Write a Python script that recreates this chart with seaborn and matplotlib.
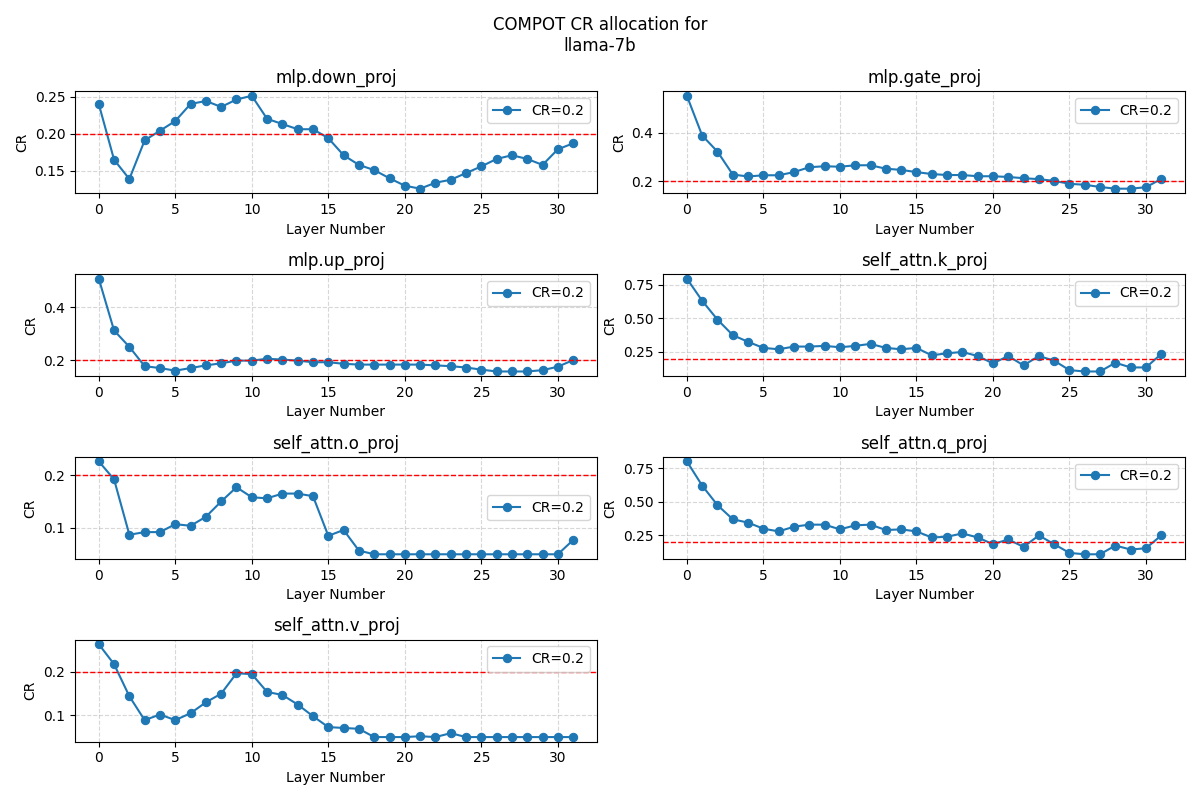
import numpy as np
import pandas as pd
import matplotlib
matplotlib.use("Agg")
import matplotlib.pyplot as plt
import seaborn as sns

layers = list(range(32))

down_proj = [0.240, 0.165, 0.139, 0.191, 0.204, 0.217, 0.240, 0.244, 0.236, 0.246,
             0.251, 0.220, 0.213, 0.206, 0.206, 0.194, 0.171, 0.158, 0.151, 0.140,
             0.130, 0.126, 0.134, 0.138, 0.147, 0.156, 0.166, 0.171, 0.166, 0.158,
             0.179, 0.187]
gate_proj = [0.551, 0.388, 0.322, 0.228, 0.220, 0.225, 0.225, 0.238, 0.258, 0.262,
             0.260, 0.266, 0.266, 0.252, 0.247, 0.238, 0.230, 0.226, 0.226, 0.221,
             0.221, 0.218, 0.213, 0.209, 0.202, 0.190, 0.186, 0.177, 0.170, 0.170,
             0.176, 0.210]
up_proj = [0.508, 0.312, 0.250, 0.177, 0.170, 0.160, 0.170, 0.180, 0.188, 0.198,
           0.198, 0.205, 0.202, 0.198, 0.192, 0.192, 0.186, 0.183, 0.183, 0.183,
           0.183, 0.183, 0.180, 0.177, 0.172, 0.164, 0.157, 0.157, 0.157, 0.162,
           0.175, 0.200]
k_proj = [0.795, 0.630, 0.490, 0.375, 0.325, 0.280, 0.270, 0.290, 0.290, 0.295,
          0.285, 0.295, 0.310, 0.280, 0.270, 0.280, 0.225, 0.240, 0.250, 0.220,
          0.165, 0.220, 0.150, 0.220, 0.185, 0.115, 0.105, 0.105, 0.170, 0.135,
          0.135, 0.235]
o_proj = [0.226, 0.192, 0.087, 0.092, 0.092, 0.107, 0.104, 0.121, 0.150, 0.177,
          0.158, 0.156, 0.165, 0.165, 0.160, 0.085, 0.096, 0.057, 0.050, 0.050,
          0.050, 0.050, 0.050, 0.050, 0.050, 0.050, 0.050, 0.050, 0.050, 0.050,
          0.050, 0.077]
q_proj = [0.800, 0.620, 0.475, 0.370, 0.345, 0.300, 0.280, 0.315, 0.330, 0.330,
          0.295, 0.325, 0.330, 0.290, 0.295, 0.280, 0.235, 0.240, 0.265, 0.235,
          0.185, 0.220, 0.165, 0.250, 0.185, 0.120, 0.110, 0.110, 0.175, 0.145,
          0.155, 0.250]
v_proj = [0.264, 0.218, 0.144, 0.089, 0.102, 0.089, 0.105, 0.130, 0.150, 0.197,
          0.195, 0.154, 0.147, 0.125, 0.098, 0.073, 0.071, 0.069, 0.050, 0.050,
          0.050, 0.052, 0.050, 0.059, 0.050, 0.050, 0.050, 0.050, 0.050, 0.050,
          0.050, 0.050]

target_cr = 0.2
module_names = ["mlp.down_proj", "mlp.gate_proj", "mlp.up_proj", "self_attn.k_proj",
                "self_attn.o_proj", "self_attn.q_proj", "self_attn.v_proj"]
module_values = [down_proj, gate_proj, up_proj, k_proj, o_proj, q_proj, v_proj]

fig, axes = plt.subplots(nrows=4, ncols=2, figsize=(12, 8))
axes = axes.flatten()

for idx, (name, vals) in enumerate(zip(module_names, module_values)):
    ax = axes[idx]
    df = pd.DataFrame({"layer": layers, "cr": vals})
    sns.lineplot(data=df, x="layer", y="cr", marker="o", color="#1f77b4",
                 markeredgecolor="#1f77b4", markersize=6, label=f"CR={target_cr}", ax=ax)
    ax.axhline(target_cr, color="red", linestyle="--", linewidth=1)
    ax.set_title(name)
    ax.set_xlabel("Layer Number")
    ax.set_ylabel("CR")
    ax.grid(True, linestyle="--", alpha=0.5)
    ax.legend(loc="best")

axes[7].axis("off")

fig.suptitle("COMPOT CR allocation for\nllama-7b")
plt.tight_layout()
plt.savefig("out.png", dpi=100)
plt.close()
